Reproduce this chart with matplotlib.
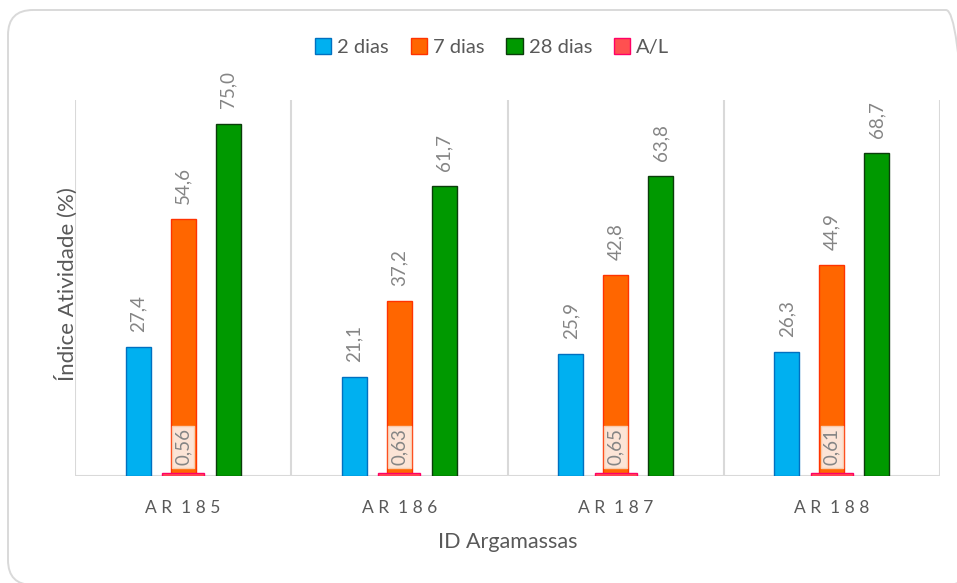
import matplotlib
matplotlib.use("Agg")
import matplotlib.pyplot as plt
from matplotlib.patches import FancyBboxPatch, Patch
from matplotlib.transforms import IdentityTransform
import numpy as np

plt.rcParams['font.family'] = ['Lato', 'DejaVu Sans']

categories = ["AR 185", "AR 186", "AR 187", "AR 188"]
dias2 = [27.4, 21.1, 25.9, 26.3]
dias7 = [54.6, 37.2, 42.8, 44.9]
dias28 = [75.0, 61.7, 63.8, 68.7]
al_ratio = [0.56, 0.63, 0.65, 0.61]

W, H = 957, 583
fig = plt.figure(figsize=(W / 100, H / 100), dpi=100)

# rounded chart frame (pixel coordinates, origin bottom-left)
frame = FancyBboxPatch((8, H - 585), 971 - 8, 585 - 10,
                       boxstyle="round,pad=0,rounding_size=25",
                       transform=IdentityTransform(), facecolor="none",
                       edgecolor="#D9D9D9", linewidth=1.4, clip_on=False, zorder=-1)
fig.patches.append(frame)

left, right, top, bottom = 75, 940, 100, 476
ax = fig.add_axes([left / W, (H - bottom) / H, (right - left) / W, (bottom - top) / H])
ax.set_facecolor("none")

x = np.arange(len(categories)) + 0.5
bw = 0.116
off = 0.208
grey_txt = "#858585"

b2 = ax.bar(x - off, dias2, bw, color="#00B0F0", edgecolor="#0070C0", linewidth=1.0, zorder=3)
b7 = ax.bar(x, dias7, bw, color="#FF6600", edgecolor="#FF3300", linewidth=1.0, zorder=3)
b28 = ax.bar(x + off, dias28, bw, color="#009900", edgecolor="#0B3D0B", linewidth=1.0, zorder=3)
bal = ax.bar(x, al_ratio, 0.194, color="#FF5050", edgecolor="#FF0066", linewidth=1.0, zorder=4)

for bars, vals in ((b2, dias2), (b7, dias7), (b28, dias28)):
    for rect, v in zip(bars, vals):
        ax.annotate(f"{v:.1f}".replace(".", ","),
                    (rect.get_x() + rect.get_width() / 2, v),
                    xytext=(0, 11), textcoords="offset points",
                    rotation=90, ha="center", va="bottom",
                    color=grey_txt, fontsize=13.5, zorder=5)

for xi, v in zip(x, al_ratio):
    ax.text(xi, 6.2, f"{v:.2f}".replace(".", ","), rotation=90,
            ha="center", va="center", color=grey_txt, fontsize=13.5, zorder=6,
            bbox=dict(boxstyle="square,pad=0.15", facecolor="#FCE4D6",
                      edgecolor="#F8CBAD", linewidth=1.0))

ax.set_xlim(0, 4)
ax.set_ylim(0, 80)
for xv in range(5):
    ax.axvline(xv, color="#D9D9D9", linewidth=1.5, zorder=1)
ax.axhline(0, color="#D9D9D9", linewidth=1.5, zorder=2)
for s in ax.spines.values():
    s.set_visible(False)
ax.set_yticks([])
ax.set_xticks(x)
ax.set_xticklabels([" ".join(c).replace("   ", "  ") for c in categories],
                   color="#595959", fontsize=12.5)
ax.tick_params(axis="x", length=0, pad=17)

ax.set_xlabel("ID Argamassas", color="#595959", fontsize=15.5, labelpad=12)
ax.set_ylabel("Índice Atividade (%)", color="#595959", fontsize=16)
ax.yaxis.set_label_coords(0.003, 0.51)

handles = [Patch(facecolor="#00B0F0", edgecolor="#0070C0", label="2 dias"),
           Patch(facecolor="#FF6600", edgecolor="#FF3300", label="7 dias"),
           Patch(facecolor="#009900", edgecolor="#0B3D0B", label="28 dias"),
           Patch(facecolor="#FF5050", edgecolor="#FF0066", label="A/L")]
fig.legend(handles=handles, loc="center", bbox_to_anchor=(492 / W, 1 - 47 / H),
           ncol=4, frameon=False, fontsize=14.5, labelcolor="#595959",
           handlelength=0.8, handleheight=0.8, handletextpad=0.3, columnspacing=1.1)

fig.savefig("out.png", dpi=100)
